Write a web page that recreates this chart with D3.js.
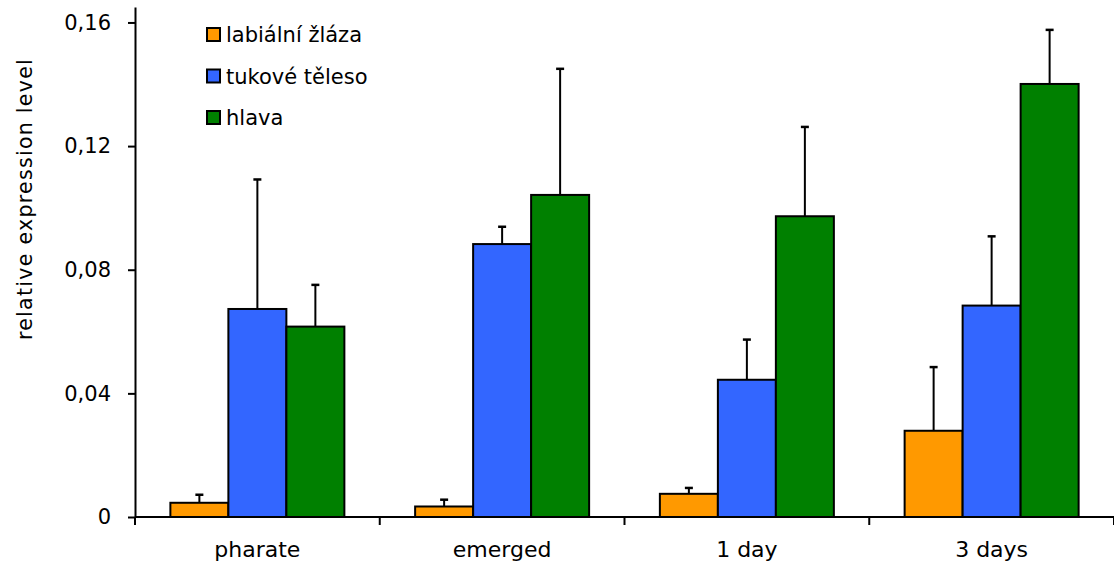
<!DOCTYPE html>
<html>
<head>
<meta charset="utf-8">
<script src="https://cdn.jsdelivr.net/npm/d3@7"></script>
<style>
  html, body { margin: 0; padding: 0; background: #fff; }
  svg { display: block; }
  text { font-family: "DejaVu Sans", sans-serif; }
</style>
</head>
<body>
<svg id="chart" width="1114" height="566"></svg>
<script>
// Stages of development on the x axis
const categories = ["pharate", "emerged", "1 day", "3 days"];
// Tissue series
const seriesNames = ["labiální žláza", "tukové těleso", "hlava"];
const seriesColors = ["#FF9900", "#3366FF", "#008000"];
// Mean relative expression per series, one value per stage
const labialni = [0.0046, 0.0034, 0.0075, 0.0279];
const tukove   = [0.0673, 0.0883, 0.0444, 0.0684];
const hlava    = [0.0616, 0.1042, 0.0973, 0.1401];
// Upper error (standard deviation) per series
const labialniErr = [0.0026, 0.0022, 0.0019, 0.0206];
const tukoveErr   = [0.0419, 0.0056, 0.0130, 0.0224];
const hlavaErr    = [0.0135, 0.0408, 0.0289, 0.0175];
// Y axis tick values
const yTicks = [0, 0.04, 0.08, 0.12, 0.16];
const yLabel = "relative expression level";

const values = [labialni, tukove, hlava];
const errors = [labialniErr, tukoveErr, hlavaErr];

const svg = d3.select("#chart");
const plotLeft = 135, plotRight = 1114, plotTop = 7, plotBottom = 517;

const x = d3.scaleBand().domain(categories).range([plotLeft, plotRight]).padding(0);
const xs = d3.scaleBand().domain(d3.range(seriesNames.length))
  .range([0, x.bandwidth()]).paddingInner(0).paddingOuter(0.61);
const y = d3.scaleLinear().domain([0, 0.165]).range([plotBottom, plotTop]);

const fmt = d => d === 0 ? "0" : d.toFixed(2).replace(".", ",");

// Bars with upper error bars
const groups = svg.append("g").selectAll("g")
  .data(categories)
  .join("g")
  .attr("transform", d => `translate(${x(d)},0)`);

groups.each(function(cat, ci) {
  const g = d3.select(this);
  seriesNames.forEach((s, si) => {
    const v = values[si][ci];
    const e = errors[si][ci];
    const bx = xs(si), bw = xs.bandwidth();
    const cx = bx + bw / 2;
    g.append("line")
      .attr("x1", cx).attr("x2", cx)
      .attr("y1", y(v)).attr("y2", y(v + e))
      .attr("stroke", "#000").attr("stroke-width", 2);
    g.append("line")
      .attr("x1", cx - 4).attr("x2", cx + 4)
      .attr("y1", y(v + e)).attr("y2", y(v + e))
      .attr("stroke", "#000").attr("stroke-width", 2.5);
    g.append("rect")
      .attr("x", bx).attr("width", bw)
      .attr("y", y(v)).attr("height", y(0) - y(v))
      .attr("fill", seriesColors[si])
      .attr("stroke", "#000").attr("stroke-width", 2);
  });
});

// Y axis
const yAxis = d3.axisLeft(y).tickValues(yTicks).tickFormat(fmt)
  .tickSize(7).tickSizeOuter(0).tickPadding(17);
const yg = svg.append("g").attr("transform", `translate(${plotLeft},0)`).call(yAxis);
yg.selectAll("path, line").attr("stroke", "#000").attr("stroke-width", 2);
yg.selectAll("text")
  .attr("font-family", "DejaVu Sans, sans-serif")
  .attr("font-size", 21).attr("fill", "#000");

// X axis
const xg = svg.append("g");
xg.append("line")
  .attr("x1", plotLeft).attr("x2", plotRight)
  .attr("y1", plotBottom).attr("y2", plotBottom)
  .attr("stroke", "#000").attr("stroke-width", 2);
const bounds = categories.map(c => x(c)).concat([x(categories[categories.length - 1]) + x.bandwidth()]);
xg.selectAll("line.tk").data(bounds).join("line")
  .attr("class", "tk")
  .attr("x1", d => d).attr("x2", d => d)
  .attr("y1", plotBottom).attr("y2", plotBottom + 8)
  .attr("stroke", "#000").attr("stroke-width", 2);
xg.selectAll("text").data(categories).join("text")
  .attr("x", d => x(d) + x.bandwidth() / 2)
  .attr("y", 557)
  .attr("text-anchor", "middle")
  .attr("font-size", 22)
  .attr("fill", "#000")
  .text(d => d);

// Y axis title
svg.append("text")
  .attr("transform", "translate(32,199) rotate(-90)")
  .attr("text-anchor", "middle")
  .attr("font-size", 20.5)
  .attr("letter-spacing", 1.3)
  .attr("fill", "#000")
  .text(yLabel);

// Legend
const legend = svg.append("g").attr("transform", "translate(207,28)");
seriesNames.forEach((s, i) => {
  const row = legend.append("g").attr("transform", `translate(0,${i * 41.5})`);
  row.append("rect").attr("x", 0).attr("y", 0).attr("width", 13).attr("height", 13)
    .attr("fill", seriesColors[i]).attr("stroke", "#000").attr("stroke-width", 2);
  row.append("text").attr("x", 19).attr("y", 14)
    .attr("font-size", 21)
    .attr("fill", "#000")
    .text(s);
});
</script>
</body>
</html>
